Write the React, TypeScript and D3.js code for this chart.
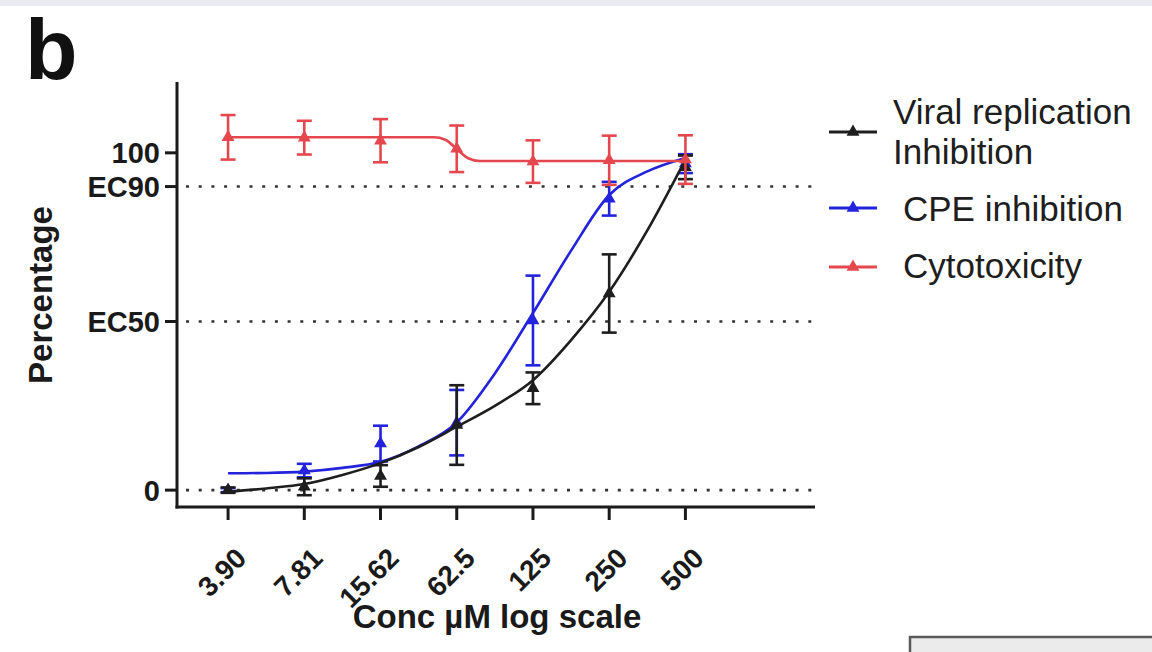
import React from "react";
import * as d3 from "d3";

// ---- data ----
const categories = ["3.90", "7.81", "15.62", "62.5", "125", "250", "500"];
const yTickValues = [0, 50, 90, 100];
const yTickLabels = ["0", "EC50", "EC90", "100"];
const refLines = [0, 50, 90];

// measured points (mean, error half-width)
const viralMean = [0, 1.0, 4.2, 19.3, 30.2, 58.3, 95.7];
const viralErr = [0.8, 2.5, 3.2, 11.8, 4.7, 11.6, 3.5];
const cpeMean = [0, 5.8, 13.8, 20.0, 50.3, 86.4, 96.8];
const cpeErr = [0.6, 2.0, 5.3, 9.7, 13.3, 5.0, 2.8];
const cytoMean = [104.6, 104.5, 103.6, 101.2, 97.4, 97.8, 98.0];
const cytoErr = [6.6, 5.0, 6.4, 6.9, 6.3, 7.3, 7.2];

// fitted curves (category position, value)
const viralFitPos = [0, 0.5, 1, 1.5, 2, 2.5, 3, 3.5, 4, 4.5, 5, 5.5, 6];
const viralFitVal = [-0.5, 0.5, 1.8, 4.5, 8, 12.8, 18.8, 25, 32.6, 44.5, 58.8, 77, 98];
const cpeFitPos = [0, 0.5, 1, 1.5, 2, 2.5, 3, 3.5, 4, 4.5, 5, 5.5, 6];
const cpeFitVal = [5.0, 5.1, 5.5, 6.6, 8.4, 13, 20.1, 34.6, 52.5, 71, 87.5, 94.5, 98.5];
const cytoFitPos = [0, 2.7, 2.85, 3.0, 3.15, 3.3, 6];
const cytoFitVal = [104.6, 104.6, 103.9, 101.1, 98.4, 97.6, 97.6];

const legendLabels = [["Viral replication", "Inhibition"], ["CPE inhibition"], ["Cytotoxicity"]];

const BLACK = "#1e1e1e";
const BLUE = "#2323dc";
const RED = "#e5474f";

const FONT = "'Liberation Sans', Arial, Helvetica, sans-serif";

export default function App() {
  const W = 1152;
  const H = 652;
  const x = d3.scaleLinear().domain([-0.67, 7.7]).range([177, 815]);
  const y = d3.scaleLinear().domain([-5, 121]).range([507, 82]);

  const line = d3
    .line<[number, number]>()
    .x((d) => x(d[0]))
    .y((d) => y(d[1]))
    .curve(d3.curveMonotoneX);

  const tri = d3.symbol(d3.symbolTriangle, 72)() as string;

  const series = [
    { name: "cpe", color: BLUE, mean: cpeMean, err: cpeErr, fp: cpeFitPos, fv: cpeFitVal },
    { name: "viral", color: BLACK, mean: viralMean, err: viralErr, fp: viralFitPos, fv: viralFitVal },
    { name: "cyto", color: RED, mean: cytoMean, err: cytoErr, fp: cytoFitPos, fv: cytoFitVal },
  ];

  const legendColors = [BLACK, BLUE, RED];
  const legendY = [132, 208, 267];
  const legendTextX = [893, 903, 903];
  const legendBaselines = [[124, 164], [221], [278]];

  return (
    <svg
      width={W}
      height={H}
      viewBox={`0 0 ${W} ${H}`}
      style={{ position: "absolute", left: 0, top: 0, background: "#ffffff" }}
      fontFamily={FONT}
    >
      <rect x={0} y={0} width={W} height={H} fill="#ffffff" />
      <rect x={0} y={0} width={W} height={6} fill="#eaebf0" />

      {/* panel letter */}
      <text x={25} y={79} fontSize={86} fontWeight="bold" fill="#111">
        b
      </text>

      {/* reference dotted lines */}
      {refLines.map((v) => (
        <line
          key={"ref" + v}
          x1={186}
          x2={815}
          y1={y(v)}
          y2={y(v)}
          stroke="#333"
          strokeWidth={2.6}
          strokeDasharray="3 9.7"
        />
      ))}

      {/* axes */}
      <line x1={177} x2={177} y1={82} y2={508.5} stroke="#1a1a1a" strokeWidth={3} />
      <line x1={175.5} x2={815} y1={507} y2={507} stroke="#1a1a1a" strokeWidth={3} />

      {yTickValues.map((v, i) => (
        <g key={"yt" + v}>
          <line x1={165} x2={177} y1={y(v)} y2={y(v)} stroke="#1a1a1a" strokeWidth={3} />
          <text
            x={160}
            y={y(v)}
            dy="0.36em"
            textAnchor="end"
            fontSize={29}
            fontWeight="bold"
            fill="#1a1a1a"
          >
            {yTickLabels[i]}
          </text>
        </g>
      ))}

      {categories.map((c, i) => (
        <g key={"xt" + c}>
          <line x1={x(i)} x2={x(i)} y1={507} y2={520} stroke="#1a1a1a" strokeWidth={3} />
          <text
            transform={`translate(${x(i) + 20},${560}) rotate(-45)`}
            textAnchor="end"
            fontSize={28}
            fontWeight="bold"
            fill="#1a1a1a"
          >
            {c}
          </text>
        </g>
      ))}

      <text
        transform={`translate(52,295) rotate(-90)`}
        textAnchor="middle"
        fontSize={33}
        fontWeight="bold"
        fill="#1a1a1a"
      >
        Percentage
      </text>
      <text x={497} y={628} textAnchor="middle" fontSize={33} fontWeight="bold" fill="#1a1a1a">
        Conc µM log scale
      </text>

      {/* series */}
      {series.map((s) => (
        <g key={s.name}>
          <path
            d={line(s.fp.map((p, k) => [p, s.fv[k]] as [number, number])) || ""}
            fill="none"
            stroke={s.color}
            strokeWidth={2.6}
          />
          {s.mean.map((m, i) => {
            const cx = x(i);
            const hi = y(m + s.err[i]);
            const lo = y(m - s.err[i]);
            return (
              <g key={s.name + i}>
                <line x1={cx} x2={cx} y1={hi} y2={lo} stroke={s.color} strokeWidth={2.6} />
                <line x1={cx - 7.5} x2={cx + 7.5} y1={hi} y2={hi} stroke={s.color} strokeWidth={2.6} />
                <line x1={cx - 7.5} x2={cx + 7.5} y1={lo} y2={lo} stroke={s.color} strokeWidth={2.6} />
                <path d={tri} transform={`translate(${cx},${y(m)})`} fill={s.color} />
              </g>
            );
          })}
        </g>
      ))}

      {/* legend */}
      {legendLabels.map((lbl, i) => (
        <g key={"lg" + i}>
          <line
            x1={829}
            x2={877}
            y1={legendY[i]}
            y2={legendY[i]}
            stroke={legendColors[i]}
            strokeWidth={3}
          />
          <path d={tri} transform={`translate(853,${legendY[i]})`} fill={legendColors[i]} />
          {lbl.map((t, j) => (
            <text
              key={t}
              x={legendTextX[i]}
              y={legendBaselines[i][j]}
              fontSize={35}
              fill="#1e1e1e"
            >
              {t}
            </text>
          ))}
        </g>
      ))}

      {/* partial box at the bottom right */}
      <rect x={910} y={637} width={260} height={40} fill="#ebebeb" stroke="#5a5a5a" strokeWidth={2.5} />
    </svg>
  );
}
